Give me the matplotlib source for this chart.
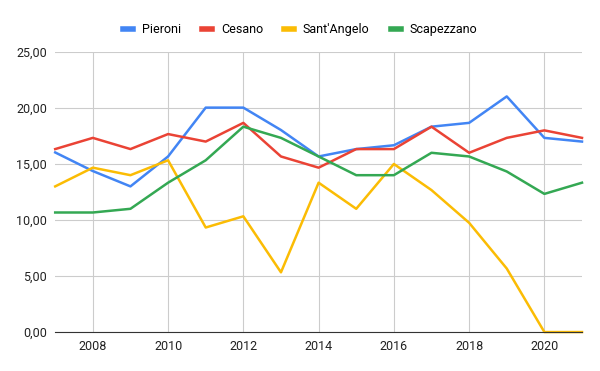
import matplotlib
matplotlib.use("Agg")
import matplotlib.pyplot as plt
from matplotlib.ticker import FuncFormatter

plt.rcParams['font.family'] = ['Roboto', 'DejaVu Sans']

# Data
years = list(range(2007, 2022))
pieroni = [16.03, 14.37, 13.0, 15.67, 20.03, 20.03, 18.03, 15.67,
           16.33, 16.67, 18.33, 18.67, 21.03, 17.33, 17.0]
cesano = [16.33, 17.33, 16.33, 17.67, 17.0, 18.67, 15.67, 14.67,
          16.33, 16.33, 18.33, 16.0, 17.33, 18.0, 17.33]
santangelo = [13.0, 14.67, 14.0, 15.33, 9.33, 10.33, 5.33, 13.33,
              11.0, 15.0, 12.67, 9.75, 5.67, 0.0, 0.0]
scapezzano = [10.67, 10.67, 11.0, 13.33, 15.33, 18.33, 17.33, 15.67,
              14.0, 14.0, 16.0, 15.67, 14.33, 12.33, 13.33]

series = [("Pieroni", pieroni, "#4285F4"),
          ("Cesano", cesano, "#EA4335"),
          ("Sant'Angelo", santangelo, "#FBBC04"),
          ("Scapezzano", scapezzano, "#34A853")]

fig = plt.figure(figsize=(6, 3.71), dpi=100)
ax = fig.add_axes([0.092, 0.105, 0.878, 0.755])

for name, vals, col in series:
    ax.plot(years, vals, color=col, linewidth=1.8, label=name, clip_on=False)

ax.set_xlim(2007, 2021)
ax.set_ylim(0, 25)
ax.set_xticks(range(2008, 2021, 2))
ax.set_yticks(range(0, 26, 5))
ax.yaxis.set_major_formatter(FuncFormatter(lambda v, p: f"{v:.2f}".replace(".", ",")))

ax.grid(True, color="#cccccc", linewidth=0.8)
ax.set_axisbelow(True)
for s in ["top", "right", "left"]:
    ax.spines[s].set_visible(False)
ax.spines["bottom"].set_color("#333333")
ax.spines["bottom"].set_zorder(5)
ax.tick_params(axis="both", length=0, labelsize=9, colors="#222222")
ax.tick_params(axis="x", pad=6)
ax.tick_params(axis="y", pad=6)

leg = fig.legend(loc="center", bbox_to_anchor=(0.5, 0.92), ncol=4, frameon=False,
                 fontsize=9, handlelength=0.8, handletextpad=0.7, columnspacing=1.7)
for h in leg.get_lines():
    h.set_linewidth(4)

fig.savefig("out.png", dpi=100)
